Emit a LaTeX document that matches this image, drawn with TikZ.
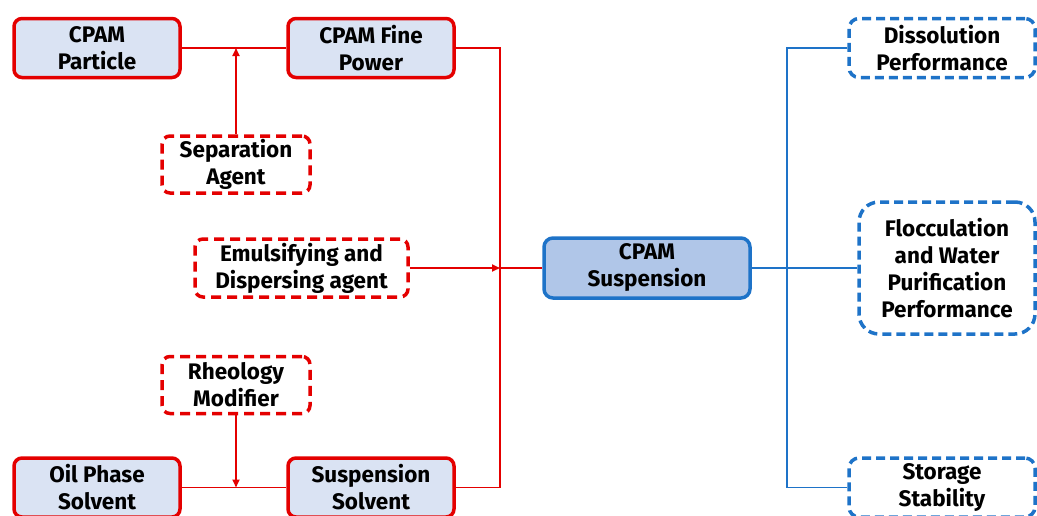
\documentclass[tikz,border=0pt]{standalone}
\usepackage{fontspec}
\setmainfont{Fira Sans}
\usetikzlibrary{arrows.meta}
\definecolor{cpamred}{RGB}{228,0,0}
\definecolor{cpamblue}{RGB}{30,115,200}
\definecolor{palefill}{RGB}{218,227,243}
\definecolor{midfill}{RGB}{176,198,232}
\tikzset{
  boxtext/.style={font=\bfseries\fontsize{22.5}{27}\selectfont, align=center, inner sep=0pt},
  rawbox/.style={boxtext, draw=cpamred, line width=3.5pt, fill=palefill, rounded corners=8pt, minimum width=166pt, minimum height=59pt},
  addbox/.style={boxtext, draw=cpamred, line width=3.5pt, dash pattern=on 10pt off 6pt, rounded corners=8pt, minimum width=148pt, minimum height=57pt},
  mainbox/.style={boxtext, draw=cpamblue, line width=3.5pt, fill=midfill, rounded corners=9pt, minimum width=206pt, minimum height=60pt},
  propbox/.style={boxtext, draw=cpamblue, line width=3.5pt, dash pattern=on 9pt off 5pt, rounded corners=10pt, minimum width=186pt, minimum height=59pt},
  redline/.style={draw=cpamred, line width=1.8pt},
  redarrow/.style={redline, -{Triangle[length=8pt,width=7pt]}},
  blueline/.style={draw=cpamblue, line width=1.8pt}
}

\begin{document}
\begin{tikzpicture}[x=1pt,y=-1pt]
	%%%%% START %%%%%
	\useasboundingbox (0,0) rectangle (1037,515);
	\clip (0,0) rectangle (1037,515);
	
	% raw materials
	\node[rawbox] (particle) at (97,48) {CPAM\\Particle};
	\node[rawbox] (fine) at (371,48) {CPAM Fine\\Power};
	\node[rawbox] (oil) at (97,487.5) {Oil Phase\\Solvent};
	\node[rawbox] (solvent) at (371,487.5) {Suspension\\Solvent};
	
	% additives
	\node[addbox] (sep) at (236,164.5) {Separation\\Agent};
	\node[addbox, minimum width=213pt, minimum height=58pt] (emul) at (301.5,268) {Emulsifying and\\Dispersing agent};
	\node[addbox] (rheo) at (236,385) {Rheology\\Modifier};
	
	\node[mainbox] (susp) at (647,268) {CPAM\\Suspension};
	
	% properties
	\node[propbox] (diss) at (942,48) {Dissolution\\Performance};
	\node[propbox, minimum width=176pt, minimum height=132pt, rounded corners=20pt] (floc) at (947,268) {Flocculation\\and Water\\Purification\\Performance};
	\node[propbox] (stor) at (942,487.5) {Storage\\Stability};
	
	\coordinate (sepjoin) at (sep.north |- particle.east);
	\coordinate (rheojoin) at (rheo.south |- oil.east);
	\coordinate (rbus) at (500,268);
	\coordinate (bbus) at (787,268);
	
	\draw[redline] (particle.east) -- (fine.west);
	\draw[redarrow] (sep.north) -- (sepjoin);
	\draw[redline] (oil.east) -- (solvent.west);
	\draw[redarrow] (rheo.south) -- (rheojoin);
	\draw[redline] (fine.east) -| (rbus) |- (solvent.east);
	\draw[redarrow] (emul.east) -- (rbus);
	\draw[redline] (rbus) -- (susp.west);
	
	\draw[blueline] (susp.east) -- (floc.west);
	\draw[blueline] (diss.west) -| (bbus) |- (stor.west);
	%%%%% END %%%%%
\end{tikzpicture}
\end{document}
